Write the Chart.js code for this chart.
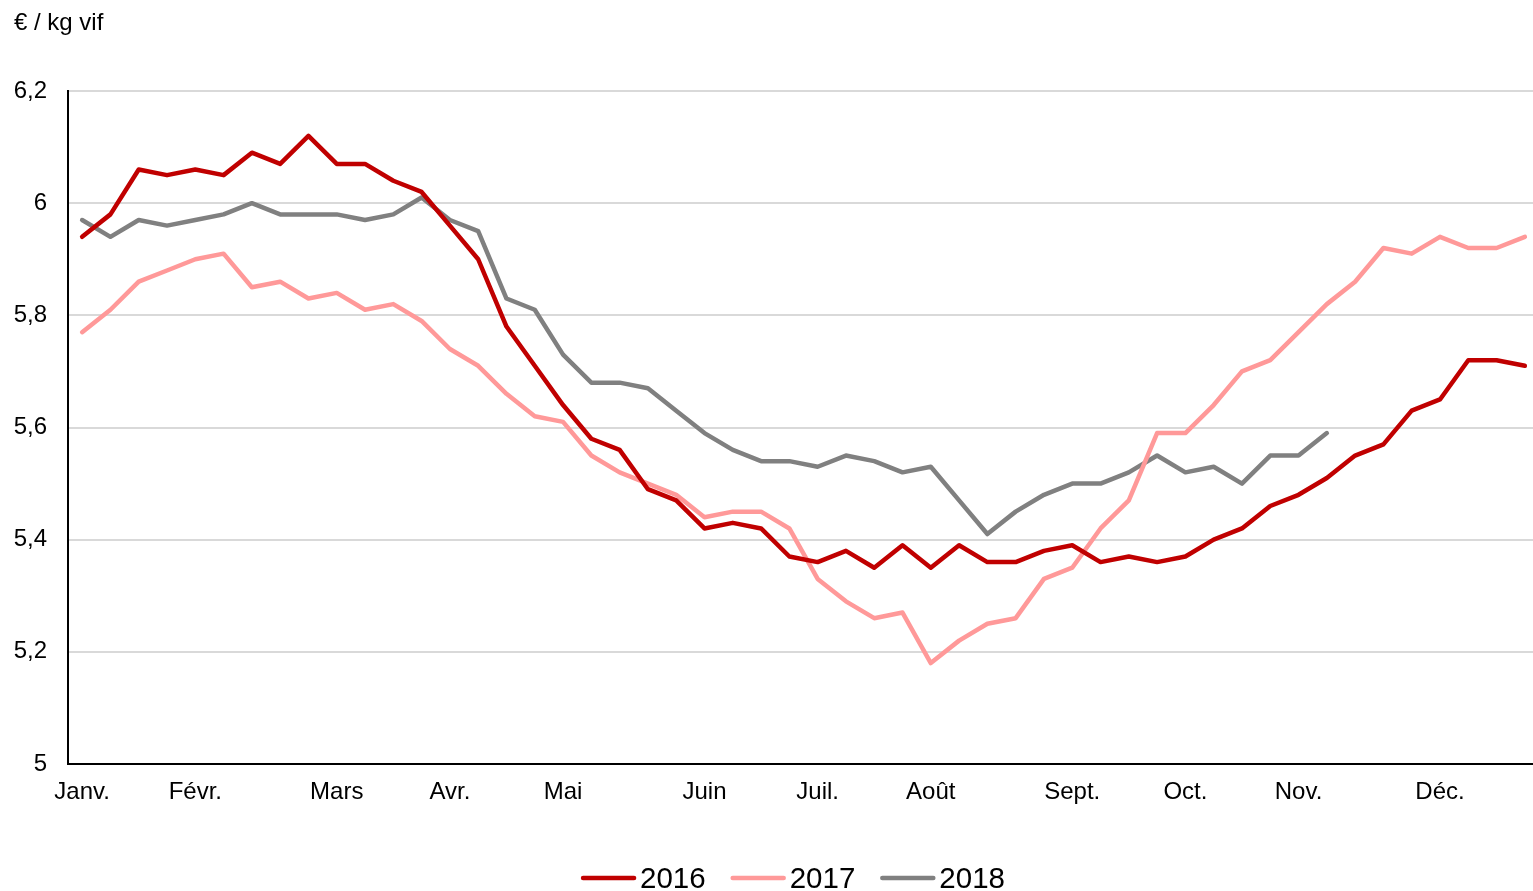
<!DOCTYPE html>
<html>
<head>
<meta charset="utf-8">
<script src="https://cdn.jsdelivr.net/npm/chart.js@4/dist/chart.umd.min.js"></script>
<style>
  html, body { margin: 0; padding: 0; background: #fff; overflow: hidden; }
  canvas { display: block; }
</style>
</head>
<body>
<canvas id="prix" width="1539" height="891"></canvas>
<script>
// Weekly price, € / kg vif, 52 weeks
const monthLabels = ['Janv.', 'Févr.', 'Mars', 'Avr.', 'Mai', 'Juin', 'Juil.', 'Août', 'Sept.', 'Oct.', 'Nov.', 'Déc.'];
const monthWeeks = [0, 4, 9, 13, 17, 22, 26, 30, 35, 39, 43, 48];

const prix2016 = [5.94, 5.98, 6.06, 6.05, 6.06, 6.05, 6.09, 6.07, 6.12, 6.07, 6.07, 6.04, 6.02,
  5.96, 5.90, 5.78, 5.71, 5.64, 5.58, 5.56, 5.49, 5.47, 5.42, 5.43, 5.42, 5.37, 5.36,
  5.38, 5.35, 5.39, 5.35, 5.39, 5.36, 5.36, 5.38, 5.39, 5.36, 5.37, 5.36, 5.37, 5.40,
  5.42, 5.46, 5.48, 5.51, 5.55, 5.57, 5.63, 5.65, 5.72, 5.72, 5.71];
const prix2017 = [5.77, 5.81, 5.86, 5.88, 5.90, 5.91, 5.85, 5.86, 5.83, 5.84, 5.81, 5.82, 5.79,
  5.74, 5.71, 5.66, 5.62, 5.61, 5.55, 5.52, 5.50, 5.48, 5.44, 5.45, 5.45, 5.42, 5.33,
  5.29, 5.26, 5.27, 5.18, 5.22, 5.25, 5.26, 5.33, 5.35, 5.42, 5.47, 5.59, 5.59, 5.64,
  5.70, 5.72, 5.77, 5.82, 5.86, 5.92, 5.91, 5.94, 5.92, 5.92, 5.94];
const prix2018 = [5.97, 5.94, 5.97, 5.96, 5.97, 5.98, 6.00, 5.98, 5.98, 5.98, 5.97, 5.98, 6.01,
  5.97, 5.95, 5.83, 5.81, 5.73, 5.68, 5.68, 5.67, 5.63, 5.59, 5.56, 5.54, 5.54, 5.53,
  5.55, 5.54, 5.52, 5.53, 5.47, 5.41, 5.45, 5.48, 5.50, 5.50, 5.52, 5.55, 5.52, 5.53,
  5.50, 5.55, 5.55, 5.59];

const seriesNames = ['2016', '2017', '2018'];
const seriesColors = ['#C00000', '#FF9999', '#808080'];

// one label slot per week, month name on the first week of the month
const weekLabels = [];
for (let i = 0; i < prix2016.length; i++) {
  const m = monthWeeks.indexOf(i);
  weekLabels.push(m >= 0 ? monthLabels[m] : '');
}

Chart.defaults.font.family = "'Liberation Sans', Arial, sans-serif";
Chart.defaults.color = '#000';

// title top-left and the legend under the axis
const decorPlugin = {
  id: 'decor',
  afterDraw(chart) {
    const ctx = chart.ctx;
    ctx.save();
    ctx.fillStyle = '#000';
    ctx.font = "24px 'Liberation Sans', Arial, sans-serif";
    ctx.textBaseline = 'alphabetic';
    ctx.textAlign = 'left';
    ctx.fillText('€ / kg vif', 14, 30);

    ctx.font = "29.5px 'Liberation Sans', Arial, sans-serif";
    const lineLen = 55, gap = 4, itemGap = 25;
    const widths = seriesNames.map(n => ctx.measureText(n).width);
    let total = 0;
    widths.forEach((w, i) => { total += lineLen + gap + w + (i ? itemGap : 0); });
    let x = 793 - total / 2;
    const y = 878;
    seriesNames.forEach((name, i) => {
      ctx.strokeStyle = seriesColors[i];
      ctx.lineWidth = 4.5;
      ctx.lineCap = 'round';
      ctx.beginPath();
      ctx.moveTo(x + 2, y);
      ctx.lineTo(x + lineLen - 2, y);
      ctx.stroke();
      ctx.fillText(name, x + lineLen + gap, 888);
      x += lineLen + gap + widths[i] + itemGap;
    });
    ctx.restore();
  }
};

const allSeries = [prix2016, prix2017, prix2018];

new Chart(document.getElementById('prix'), {
  type: 'line',
  data: {
    labels: weekLabels,
    datasets: allSeries.map((vals, i) => ({
      label: seriesNames[i],
      data: vals,
      borderColor: seriesColors[i],
      backgroundColor: seriesColors[i],
      borderWidth: 4.5,
      pointRadius: 0,
      tension: 0,
      borderJoinStyle: 'round',
      borderCapStyle: 'round',
      fill: false
    }))
  },
  options: {
    responsive: false,
    devicePixelRatio: 1,
    animation: false,
    layout: { padding: { top: 91, right: 0, bottom: 0, left: 0 } },
    plugins: {
      legend: { display: false },
      title: { display: false },
      tooltip: { enabled: false }
    },
    scales: {
      x: {
        offset: true,
        grid: { display: false },
        border: { display: true, color: '#000', width: 2 },
        ticks: {
          autoSkip: false,
          maxRotation: 0,
          minRotation: 0,
          padding: 6,
          font: { size: 24 }
        },
        afterFit: function(s) { s.height = 127; }
      },
      y: {
        min: 5,
        max: 6.2,
        grid: { color: '#d9d9d9', lineWidth: 2, drawTicks: false },
        border: { display: true, color: '#000', width: 2 },
        ticks: {
          stepSize: 0.2,
          padding: 21,
          font: { size: 24 },
          callback: function(v) { return String(Math.round(v * 10) / 10).replace('.', ','); }
        },
        afterFit: function(s) { s.width = 68; }
      }
    }
  },
  plugins: [decorPlugin]
});
</script>
</body>
</html>
